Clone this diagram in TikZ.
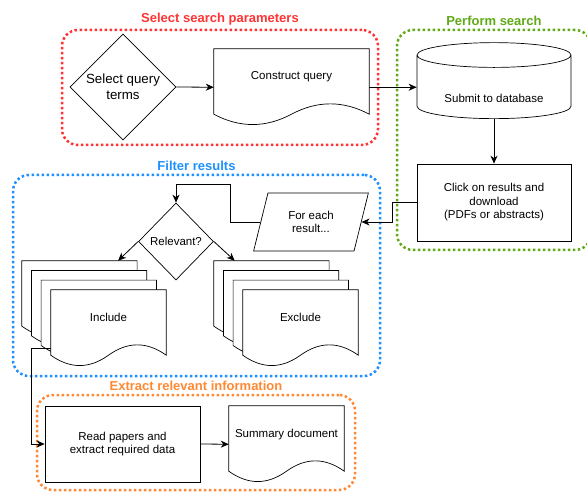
\documentclass[tikz,border=0pt]{standalone}
\usepackage{fontspec}
\setmainfont{Liberation Sans}
\usepackage{tikz}
\usetikzlibrary{calc,shapes.geometric,arrows.meta,positioning}
\definecolor{myred}{RGB}{255,51,51}
\definecolor{mygreen}{RGB}{96,169,23}
\definecolor{myblue}{RGB}{30,144,255}
\definecolor{myorange}{RGB}{255,136,51}
\pgfdeclarelayer{background}
\pgfsetlayers{background,main}
\tikzstyle{txt}=[font=\fontsize{11.5}{13.5}\selectfont,align=center]
\tikzstyle{box}=[txt,draw,fill=white,line width=0.7pt,minimum width=155pt,minimum height=77pt,inner sep=0pt]
\tikzstyle{doc}=[txt,minimum width=115pt,minimum height=76.5pt,inner sep=0pt,text height=8pt,text depth=22.5pt]
\tikzstyle{decision}=[txt,draw,fill=white,line width=0.7pt,diamond,inner sep=0pt]
\tikzstyle{database}=[txt,cylinder,shape border rotate=90,draw,fill=white,line width=0.7pt,inner sep=0pt]
\tikzstyle{group}=[draw,line width=2.5pt,dash pattern=on 2.5pt off 2.5pt,rounded corners=16pt]
\tikzstyle{title}=[font=\fontsize{13}{15}\selectfont\bfseries]
\tikzstyle{arrow}=[line width=0.8pt,-{Stealth[length=8pt,width=7pt,inset=2.5pt]}]
% wavy document outline, drawn behind the node text
\newcommand{\docoutline}[1]{%
  \begin{pgfonlayer}{background}
  \draw[fill=white,line width=0.7pt] (#1.north west) -- (#1.north east)
    -- ($(#1.south east)+(0,-11.5)$)
    .. controls ($(#1.south west)!0.8333!(#1.south east)+(0,-25.3)$) and ($(#1.south west)!0.6667!(#1.south east)+(0,-25.3)$) .. ($(#1.south)+(0,-11.5)$)
    .. controls ($(#1.south west)!0.3333!(#1.south east)+(0,2.3)$) and ($(#1.south west)!0.1667!(#1.south east)+(0,2.3)$) .. ($(#1.south west)+(0,-11.5)$)
    -- cycle;
  \end{pgfonlayer}}

\begin{document}
\begin{tikzpicture}[x=1pt,y=-1pt]
\useasboundingbox (0,0) rectangle (587,492);

% groups
\node[group,myred,minimum width=316pt,minimum height=115pt] (params) at (220,87.5) {};
\node[title,text=myred,above=0pt of params] (paramstitle) {Select search parameters};
\node[group,mygreen,minimum width=194pt,minimum height=220pt] (search) at (494,140) {};
\node[title,text=mygreen,above=0pt of search] (searchtitle) {Perform search};
\node[group,myblue,minimum width=367pt,minimum height=201pt] (filter) at (196.5,275.5) {};
\node[title,text=myblue,above=0pt of filter] (filtertitle) {Filter results};
\node[group,myorange,minimum width=318pt,minimum height=95pt] (extract) at (196,442.5) {};
\node[title,text=myorange,above=0pt of extract] (extracttitle) {Extract relevant information};

% select search parameters
\node[decision,minimum width=106pt,minimum height=106pt,font=\fontsize{13.3}{16}\selectfont] (terms) at (123,87) {Select query\\terms};
\node[doc,minimum width=155pt] (query) at (291.5,87.25) {Construct query};
\docoutline{query}

% perform search
\node[database,aspect=0.25,minimum width=154pt,minimum height=76pt,text height=34pt,text depth=2.5pt] (db) at (494,87) {Submit to database};
\node[box,minimum width=154pt] (click) at (494,202.5) {Click on results and\\download\\(PDFs or abstracts)};

% filter results
\node[txt,trapezium,trapezium left angle=71,trapezium right angle=109,trapezium stretches=true,draw,fill=white,line width=0.7pt,minimum width=115pt,minimum height=58pt,inner sep=0pt] (each) at (311,222) {For each\\result...};
\node[decision,minimum width=75pt,minimum height=77pt] (rel) at (176,241.5) {Relevant?};
\foreach \i in {3,2,1} {
  \node[doc] (inc\i) at (108.5-9.7*\i,328.25-9.7*\i) {};
  \docoutline{inc\i}
  \node[doc] (exc\i) at (300.5-9.7*\i,328.25-9.7*\i) {};
  \docoutline{exc\i}
}
\node[doc] (inc) at (108.5,328.25) {Include};
\docoutline{inc}
\node[doc] (exc) at (300.5,328.25) {Exclude};
\docoutline{exc}

% extract relevant information
\node[box,minimum height=76pt] (read) at (122.5,444) {Read papers and\\extract required data};
\node[doc] (summary) at (286.5,444.25) {Summary document};
\docoutline{summary}

% connectors
\draw[arrow] (terms.east) -- (query.west);
\draw[arrow] (query.east) -- (query.east -| db.west);
\draw[arrow] (db.south) -- (click.north);
\draw[arrow] (click.west) -- ++(-24,0) |- (each.east);
\draw[arrow] (each.west) -- ++(-30,0) -- ++(0,-38) -| (rel.north);
\draw[arrow] (rel.west) -- ([xshift=-19pt]inc3.north east);
\draw[arrow] (rel.east) -- ([xshift=21pt]exc3.north west);
\draw[arrow] ([yshift=18pt]inc.south west) -- ++(-19,0) |- (read.west);
\draw[arrow] (read.east) -- (summary.west);
\end{tikzpicture}
\end{document}
